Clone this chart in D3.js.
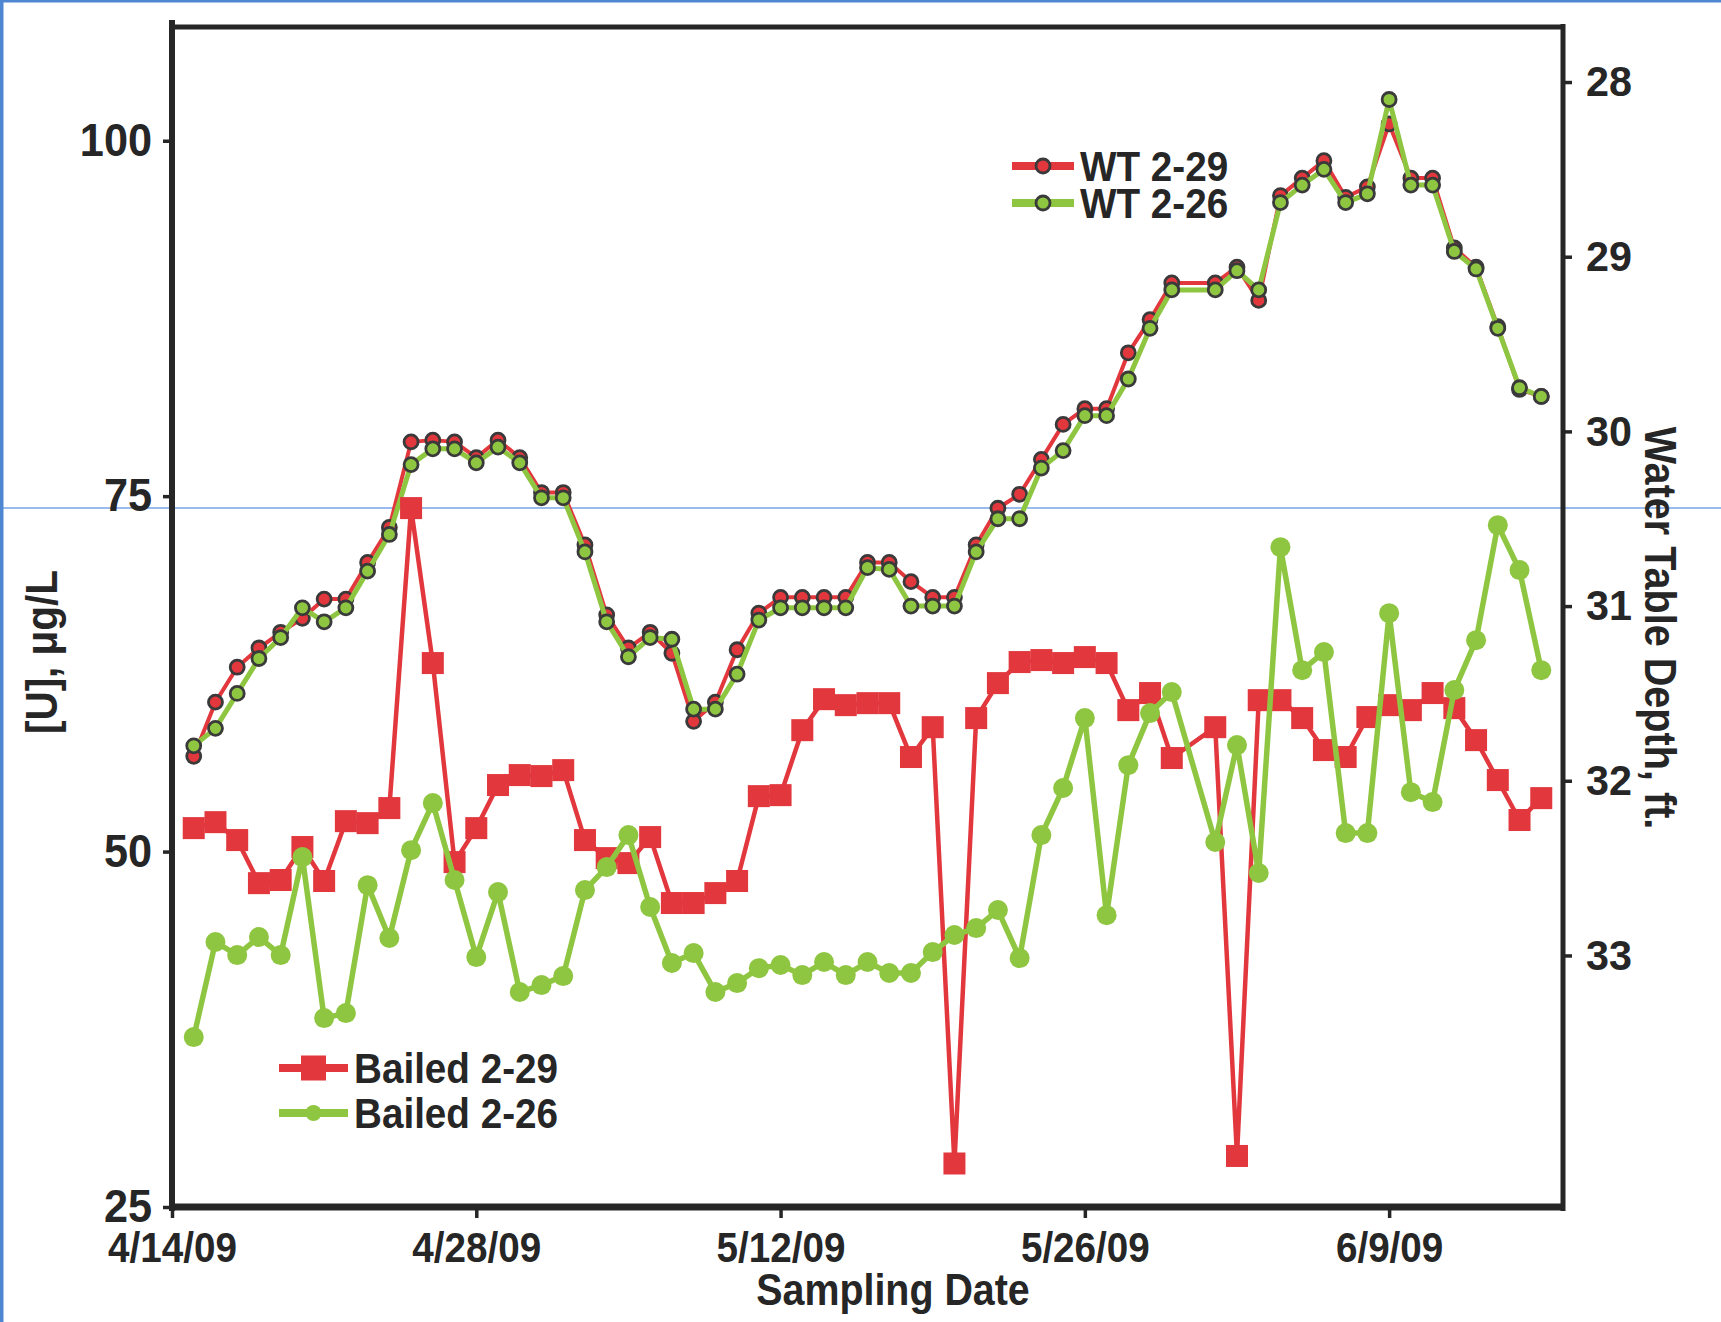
<!DOCTYPE html>
<html><head><meta charset="utf-8">
<script src="https://cdn.jsdelivr.net/npm/d3@7"></script>
<style>
html,body{margin:0;padding:0;background:#fff;}
svg{display:block;}
text{font-family:"Liberation Sans",Arial,sans-serif;font-weight:bold;fill:#262626;}
</style></head><body>
<svg id="chart" width="1721" height="1322"></svg>
<script>
// ---------- DATA ----------
const dates = [
 "2009-04-15","2009-04-16","2009-04-17","2009-04-18","2009-04-19","2009-04-20","2009-04-21","2009-04-22",
 "2009-04-23","2009-04-24","2009-04-25","2009-04-26","2009-04-27","2009-04-28","2009-04-29","2009-04-30",
 "2009-05-01","2009-05-02","2009-05-03","2009-05-04","2009-05-05","2009-05-06","2009-05-07","2009-05-08",
 "2009-05-09","2009-05-10","2009-05-11","2009-05-12","2009-05-13","2009-05-14","2009-05-15","2009-05-16",
 "2009-05-17","2009-05-18","2009-05-19","2009-05-20","2009-05-21","2009-05-22","2009-05-23","2009-05-24",
 "2009-05-25","2009-05-26","2009-05-27","2009-05-28","2009-05-29","2009-05-30",
 "2009-06-01","2009-06-02","2009-06-03","2009-06-04","2009-06-05","2009-06-06","2009-06-07","2009-06-08",
 "2009-06-09","2009-06-10","2009-06-11","2009-06-12","2009-06-13","2009-06-14","2009-06-15","2009-06-16"];

// Water table depth (ft) - right axis
const wt229 = [31.86,31.55,31.35,31.24,31.15,31.07,30.96,30.96,30.75,30.55,30.06,30.05,30.06,30.15,30.05,30.15,
 30.35,30.35,30.65,31.05,31.24,31.15,31.27,31.66,31.55,31.25,31.04,30.95,30.95,30.95,30.95,30.75,
 30.75,30.86,30.95,30.95,30.65,30.44,30.36,30.16,29.96,29.87,29.87,29.55,29.36,29.15,
 29.15,29.06,29.25,28.65,28.55,28.45,28.66,28.60,28.24,28.55,28.55,28.95,29.06,29.40,29.76,29.80];
const wt226 = [31.80,31.70,31.50,31.30,31.18,31.01,31.09,31.01,30.80,30.59,30.19,30.10,30.10,30.18,30.09,30.18,
 30.38,30.38,30.69,31.09,31.29,31.18,31.19,31.59,31.59,31.39,31.08,31.01,31.01,31.01,31.01,30.78,
 30.79,31.00,31.00,31.00,30.69,30.50,30.50,30.21,30.11,29.91,29.91,29.70,29.41,29.19,
 29.19,29.08,29.19,28.69,28.59,28.50,28.69,28.64,28.10,28.59,28.59,28.97,29.07,29.41,29.75,29.80];

// Bailed [U] (ug/L) - left axis
const bailed229 = [51.65,52.07,50.81,47.78,48.0,50.32,47.93,52.14,52.0,53.06,74.16,63.26,49.26,51.65,54.68,55.38,
 55.31,55.73,50.81,49.54,49.19,51.02,46.38,46.38,47.08,47.93,53.9,53.97,58.54,60.72,60.3,60.44,
 60.44,56.65,58.75,28.06,59.39,61.85,63.33,63.47,63.26,63.68,63.26,59.95,61.15,56.58,
 58.75,28.59,60.65,60.65,59.39,57.14,56.65,59.46,60.3,59.95,61.15,60.09,57.84,55.03,52.22,53.76];
const bailed226 = [36.95,43.64,42.72,43.99,42.72,49.61,38.29,38.64,47.64,43.92,50.1,53.41,48.0,42.58,47.15,40.12,
 40.61,41.24,47.29,48.91,51.16,46.1,42.16,42.86,40.12,40.75,41.8,42.02,41.31,42.23,41.31,42.23,
 41.46,41.46,42.93,44.13,44.62,45.89,42.51,51.16,54.47,59.39,45.53,56.08,59.74,61.22,
 50.67,57.49,48.49,71.41,62.76,64.03,51.3,51.3,66.77,54.18,53.48,61.36,64.87,72.96,69.8,62.76];

const xTickDates = ["2009-04-14","2009-04-28","2009-05-12","2009-05-26","2009-06-09"];
const xTickLabels = ["4/14/09","4/28/09","5/12/09","5/26/09","6/9/09"];
const leftTicks = [25,50,75,100];
const rightTicks = [28,29,30,31,32,33];

// ---------- LAYOUT ----------
const L=172,R=1563,T=27,B=1207;
const RED="#e1373d", GREEN="#8fc641", DARK="#262626";
const parse = d3.utcParse("%Y-%m-%d");
const xDates = dates.map(parse);
const x = d3.scaleUtc().domain([parse("2009-04-14"), parse("2009-06-17")]).range([L,R]);
const yL = d3.scaleLinear().domain([25,108]).range([B,T]);
const yR = d3.scaleLinear().domain([27.685,34.44]).range([T,B]);

// horizontally condense text glyphs (reference font is narrow)
function condense(sel, f){
  sel.each(function(){
    const w = this.getComputedTextLength();
    d3.select(this).attr("textLength", w*f).attr("lengthAdjust","spacingAndGlyphs");
  });
}

const svg = d3.select("#chart");
svg.append("rect").attr("width",1721).attr("height",1322).attr("fill","#fff");
// blue page border and guide line
svg.append("line").attr("x1",0).attr("x2",1721).attr("y1",508).attr("y2",508).attr("stroke","#79a5e8").attr("stroke-width",1.5);
svg.append("rect").attr("x",0).attr("y",0).attr("width",3.5).attr("height",1322).attr("fill","#4f86d2");
svg.append("rect").attr("x",0).attr("y",0).attr("width",1721).attr("height",2.5).attr("fill","#4f86d2");

// ---------- SERIES ----------
function drawSeries(vals, yScale, color, lw, markerType, size, outline){
  const pts = vals.map((v,i)=>[x(xDates[i]), yScale(v)]);
  const g = svg.append("g");
  g.append("path").attr("d", d3.line()(pts)).attr("fill","none").attr("stroke",color)
    .attr("stroke-width",lw).attr("stroke-linejoin","round");
  if(markerType==="circle"){
    g.selectAll("circle").data(pts).join("circle").attr("cx",d=>d[0]).attr("cy",d=>d[1]).attr("r",size)
      .attr("fill",color).attr("stroke",outline||"none").attr("stroke-width",outline?2.8:0);
  } else {
    g.selectAll("rect").data(pts).join("rect").attr("x",d=>d[0]-size/2).attr("y",d=>d[1]-size/2)
      .attr("width",size).attr("height",size).attr("fill",color);
  }
}
drawSeries(wt229, yR, RED, 4, "circle", 7, "#3a3a3a");
drawSeries(wt226, yR, GREEN, 5, "circle", 7, "#3a3a3a");
drawSeries(bailed229, yL, RED, 4.5, "square", 22);
drawSeries(bailed226, yL, GREEN, 5.5, "circle", 10);

// ---------- FRAME ----------
svg.append("line").attr("x1",L).attr("x2",L).attr("y1",20).attr("y2",B+4).attr("stroke",DARK).attr("stroke-width",6);
svg.append("line").attr("x1",L).attr("x2",R+2).attr("y1",T).attr("y2",T).attr("stroke",DARK).attr("stroke-width",5);
svg.append("line").attr("x1",R).attr("x2",R).attr("y1",T-3).attr("y2",B+4).attr("stroke",DARK).attr("stroke-width",5);
svg.append("line").attr("x1",L-3).attr("x2",R+2).attr("y1",B).attr("y2",B).attr("stroke",DARK).attr("stroke-width",7);

// ---------- AXES ----------
const axL = svg.append("g").attr("transform",`translate(${L},0)`)
  .call(d3.axisLeft(yL).tickValues(leftTicks).tickFormat(d3.format("d")).tickSize(9).tickPadding(11));
axL.selectAll("text").style("font-size","46px").attr("fill",DARK);
condense(axL.selectAll("text"), 0.94);
const axR = svg.append("g").attr("transform",`translate(${R},0)`)
  .call(d3.axisRight(yR).tickValues(rightTicks).tickFormat(d3.format("d")).tickSize(9).tickPadding(14));
axR.selectAll("text").style("font-size","43px").attr("fill",DARK);
condense(axR.selectAll("text"), 0.96);
const axB = svg.append("g").attr("transform",`translate(0,${B})`)
  .call(d3.axisBottom(x).tickValues(xTickDates.map(parse)).tickFormat((d,i)=>xTickLabels[i]).tickSize(11).tickPadding(14));
axB.selectAll("text").style("font-size","42px").attr("fill",DARK);
condense(axB.selectAll("text"), 0.92);
[axL,axR,axB].forEach(a=>{
  a.select(".domain").remove();
  a.selectAll(".tick line").attr("stroke",DARK).attr("stroke-width",3.5);
});

// ---------- TITLES ----------
const tL = svg.append("text").attr("transform","translate(41,652) rotate(-90)").attr("text-anchor","middle")
  .attr("dominant-baseline","central").style("font-size","44px").text("[U], μg/L");
condense(tL, 0.92);
const tR = svg.append("text").attr("transform","translate(1660,628) rotate(90)").attr("text-anchor","middle")
  .attr("dominant-baseline","central").style("font-size","44px").text("Water Table Depth, ft.");
condense(tR, 0.90);
const tB = svg.append("text").attr("x",893).attr("y",1305).attr("text-anchor","middle").style("font-size","44px").text("Sampling Date");
condense(tB, 0.895);

// ---------- LEGENDS ----------
function legendItem(x0, x1, y, color, lw, markerType, size, outline, label){
  const g = svg.append("g");
  g.append("line").attr("x1",x0).attr("x2",x1).attr("y1",y).attr("y2",y).attr("stroke",color).attr("stroke-width",lw);
  const cx=(x0+x1)/2;
  if(markerType==="circle"){
    g.append("circle").attr("cx",cx).attr("cy",y).attr("r",size).attr("fill",color)
      .attr("stroke",outline||"none").attr("stroke-width",outline?2.8:0);
  } else {
    g.append("rect").attr("x",cx-size/2).attr("y",y-size/2).attr("width",size).attr("height",size).attr("fill",color);
  }
  const t = g.append("text").attr("x",x1+6).attr("y",y).attr("dominant-baseline","central").style("font-size","42px").text(label);
  condense(t, 0.92);
}
legendItem(1012,1074,166,RED,8,"circle",7,"#3a3a3a","WT 2-29");
legendItem(1012,1074,203,GREEN,8,"circle",7,"#3a3a3a","WT 2-26");
legendItem(279,348,1068,RED,8,"square",25,null,"Bailed 2-29");
legendItem(279,348,1113,GREEN,8,"circle",8,null,"Bailed 2-26");
</script>
</body></html>
